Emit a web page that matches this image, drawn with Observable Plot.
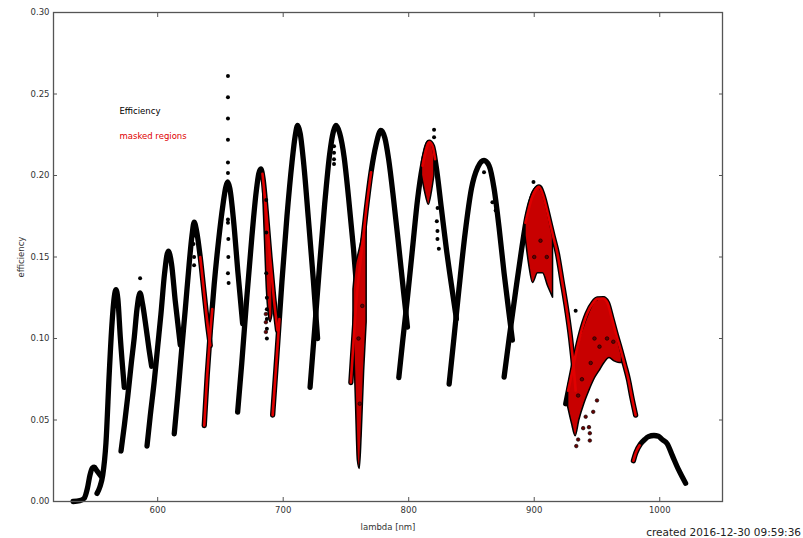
<!DOCTYPE html>
<html><head><meta charset="utf-8">
<script src="https://cdn.jsdelivr.net/npm/d3@7"></script>
<script src="https://cdn.jsdelivr.net/npm/@observablehq/plot@0.6"></script>
<style>
body{margin:0;background:#fff;font-family:"DejaVu Sans",sans-serif;}
#wrap{position:relative;width:803px;height:538px;overflow:hidden;}
#caption{position:absolute;right:2px;bottom:0px;font-size:10.5px;color:#222;font-family:"DejaVu Sans",sans-serif;}
</style></head><body>
<div id="wrap"><div id="chart"></div><div id="caption">created 2016-12-30 09:59:36</div></div>
<script>
// ---- data (lambda [nm], efficiency) ----
const xTicks = [600, 700, 800, 900, 1000];
const yTicks = [0, 0.05, 0.10, 0.15, 0.20, 0.25, 0.30];
const legendLabels = ["Efficiency", "masked regions"];

const order01 = [[532.6,0],[538,0.0005],[541.5,0.002],[544,0.008],[546,0.016],[548,0.0205],[549.5,0.021],[551.5,0.019],[554.9,0.0155]];
const order02 = [[551.7,0.005],[554,0.009],[556.2,0.016],[558.8,0.036],[561.5,0.080],[563.5,0.108],[565.5,0.126],[566.8,0.130],[568.3,0.124],[570.2,0.101],[573.4,0.070]];
const order03 = [[570.8,0.031],[573.5,0.047],[576.1,0.064],[579,0.085],[581.4,0.101],[583.5,0.118],[585.9,0.128],[588,0.121],[590.7,0.107],[593,0.094],[595.2,0.083]];
const order04 = [[591.5,0.034],[594,0.052],[597.3,0.074],[600,0.095],[602.6,0.115],[605.5,0.140],[608.4,0.1536],[611,0.146],[614,0.123],[618,0.096]];
const order05 = [[613.2,0.0415],[616,0.065],[619,0.092],[622,0.118],[625,0.145],[627.3,0.163],[629.1,0.1714],[631,0.166],[633.9,0.150],[637,0.128],[640,0.107],[641.9,0.0957]];
const order06 = [[637.1,0.0466],[639.5,0.078],[642,0.105],[645,0.133],[648.5,0.160],[652,0.182],[654.3,0.193],[655.7,0.196],[657.5,0.192],[660.5,0.172],[664,0.14],[667.7,0.109]];
const order07 = [[663.7,0.0548],[667,0.085],[671,0.125],[675,0.162],[678.5,0.190],[680.5,0.201],[682.2,0.204],[684,0.198],[686.5,0.178],[689.5,0.150],[692.5,0.125],[695.5,0.105]];
const order08 = [[691.6,0.053],[695,0.09],[699,0.135],[703,0.175],[707,0.208],[709.5,0.224],[711.5,0.2307],[713.5,0.226],[716.5,0.206],[720,0.174],[724,0.136],[727.4,0.10]];
const order09 = [[721.4,0.070],[725,0.105],[729,0.145],[733,0.182],[737,0.213],[740,0.227],[742,0.2307],[745,0.226],[748.6,0.211],[752,0.187],[756,0.155],[759.2,0.125],[761.5,0.105]];
const order10 = [[753.9,0.073],[756,0.098],[758.5,0.125],[762,0.150],[766,0.178],[770,0.202],[774,0.219],[777.8,0.2276],[781,0.223],[784,0.21],[788,0.185],[792,0.157],[796,0.128],[799,0.107]];
const order11 = [[792.1,0.076],[795,0.097],[799,0.125],[803,0.155],[807,0.185],[811,0.206],[814,0.216],[816.3,0.2205],[819,0.218],[822,0.205],[826,0.18],[830,0.155],[834,0.133],[838,0.112]];
const order12 = [[832.2,0.072],[836,0.1],[840,0.13],[845,0.165],[850,0.192],[855,0.205],[860,0.2092],[864,0.206],[868,0.192],[872,0.168],[876,0.14],[880,0.115],[882.6,0.099]];
const order13 = [[876,0.0763],[880,0.1],[885,0.128],[890,0.155],[894,0.174],[898,0.186],[901,0.191],[903.8,0.193],[907,0.188],[911,0.176],[915,0.163],[918.5,0.152],[922,0.136],[926,0.117],[929,0.10],[931.7,0.08],[933,0.068]];
const order14 = [[925.1,0.06],[929,0.075],[933,0.09],[937,0.103],[942,0.115],[947,0.122],[950.3,0.1243],[955,0.1245],[958.3,0.122],[962,0.112],[965.5,0.102],[968.9,0.093],[972,0.084],[975,0.075],[978,0.063],[980.8,0.053]];
const order15 = [[979,0.025],[981,0.03],[984.8,0.0354],[988,0.038],[991,0.0398],[995.4,0.0405],[999,0.040],[1002,0.038],[1006,0.0354],[1010,0.0283],[1015,0.0195],[1020.6,0.0112]];

// masked (telluric) parts of the orders
const mask05 = [[633.9,0.150],[637,0.128],[640,0.107],[641.9,0.0957]];
const mask06 = [[637.1,0.0466],[639.5,0.078],[642,0.105],[643.5,0.118]];
const mask07 = [[683.5,0.201],[686.5,0.178],[689.5,0.150],[692.5,0.125],[695.5,0.105]];
const mask08 = [[691.6,0.053],[695,0.09],[697,0.112]];
const mask10 = [[753.9,0.073],[756,0.098],[758.5,0.125],[762,0.150],[766,0.178],[770,0.202]];
const mask11 = [[811,0.206],[814,0.216],[816.3,0.2205],[819,0.218],[821,0.21]];
const mask13 = [[893,0.171],[898,0.186],[901,0.191],[903.8,0.193],[907,0.188],[911,0.176],[915,0.163],[918.5,0.152],[922,0.136],[926,0.117],[929,0.10],[931.7,0.08],[933,0.068]];
const mask14 = [[927,0.068],[929,0.075],[933,0.09],[937,0.103],[942,0.115],[947,0.122],[950.3,0.1243],[955,0.1245],[958.3,0.122],[962,0.112],[965.5,0.102],[968.9,0.093],[972,0.084],[975,0.075],[978,0.063],[980.8,0.053]];
const mask15 = [[979,0.025],[981,0.03],[984,0.0345]];

// scatter clouds of masked points: [lambda, low, high]
const cloudB = [[684,0.19,0.20],[685.5,0.16,0.19],[687,0.13,0.18],[688.5,0.115,0.165],[690,0.11,0.15],[691.5,0.115,0.137]];
const cloudA = [[756,0.11,0.13],[758,0.06,0.145],[759.5,0.025,0.15],[761,0.02,0.155],[762.5,0.04,0.16],[764.5,0.08,0.168],[766.5,0.11,0.175]];
const cloudK = [[810.5,0.2,0.208],[813,0.19,0.217],[816,0.182,0.221],[818.5,0.19,0.219],[820.5,0.2,0.212]];
const cloudM = [[893,0.163,0.172],[896,0.145,0.183],[899,0.134,0.19],[903,0.14,0.193],[907,0.14,0.188],[911,0.132,0.176],[915,0.125,0.162]];
const cloudN = [[927,0.058,0.07],[930,0.048,0.08],[933,0.04,0.09],[936,0.05,0.099],[940,0.06,0.108],[944,0.068,0.116],[948,0.075,0.122],[952,0.08,0.124],[956,0.085,0.125],[960,0.088,0.12],[964,0.086,0.108],[968,0.085,0.095],[970,0.085,0.089]];

// isolated points
const outliers = [[586,0.137],[628.5,0.163],[628.5,0.158],[629,0.150],[629,0.145],
  [656,0.261],[656,0.248],[656,0.235],[656,0.222],[656,0.208],[656,0.2015],[656,0.173],[656,0.171],[656.3,0.161],[656.3,0.150],[656,0.140],[656.5,0.134],
  [686.5,0.185],[686.5,0.165],[686.5,0.14],[687,0.125],[687,0.118],[687,0.112],[687,0.106],[687,0.10],
  [740.5,0.218],[740.5,0.214],[740.5,0.210],[740.5,0.207],
  [820.2,0.228],[820.2,0.2235],[822.4,0.172],[822.9,0.166],[822.9,0.161],[823,0.18],[824,0.155],
  [860,0.202],[866.7,0.1836],[869.3,0.1785],[899.4,0.196],[933,0.117]];
const maskedOutliers = [[933.5,0.034],[935,0.038],[939,0.045],[943.6,0.0456],[944.3,0.0419],[944.3,0.0374],[947,0.055],[950,0.062],[941,0.052],[686.2,0.115],[686.2,0.11],[686.2,0.104],
  [938,0.075],[945,0.085],[952,0.095],[958,0.1],[963,0.098],[935,0.065],[948,0.1],[900,0.15],[905,0.16],[910,0.15],[761,0.06],[760,0.1],[763,0.12]];

const orders = [order01,order02,order03,order04,order05,order06,order07,order08,order09,order10,order11,order12,order13,order14,order15];
const masks = [mask05,mask06,mask07,mask08,mask10,mask11,mask13,mask14,mask15];
const clouds = [cloudB,cloudA,cloudK,cloudM,cloudN];

const RED = "#e00000";
const X = d => d[0], Y = d => d[1];
const marks = [];
for (const o of orders) marks.push(Plot.line(o, {x: X, y: Y, stroke: "#000", strokeWidth: 5.3, curve: "monotone-x", strokeLinecap: "round", strokeLinejoin: "round"}));
for (const c of clouds) marks.push(Plot.areaY(c, {x: X, y1: d => d[1], y2: d => d[2], fill: "#c80000", stroke: "#000", strokeWidth: 1.5, curve: "monotone-x"}));
for (const m of masks) marks.push(Plot.line(m, {x: X, y: Y, stroke: RED, strokeWidth: 2.6, curve: "monotone-x", strokeLinecap: "round"}));
marks.push(Plot.dot(outliers, {x: X, y: Y, r: 2, fill: "#000", stroke: "none"}));
marks.push(Plot.dot(maskedOutliers, {x: X, y: Y, r: 1.8, fill: "#600", stroke: "#000", strokeWidth: 0.6}));

const chart = Plot.plot({
  width: 803, height: 538,
  marginLeft: 53, marginRight: 81, marginTop: 12, marginBottom: 37,
  style: {fontFamily: "DejaVu Sans, sans-serif", fontSize: "8.5px", color: "#333", background: "#fff"},
  x: {domain: [517, 1050]},
  y: {domain: [0, 0.30]},
  marks: [
    ...marks,
    Plot.frame({stroke: "#555", strokeWidth: 1.3}),
    Plot.axisX({ticks: xTicks, tickSize: -4, tickPadding: 9, tickFormat: d3.format("d"), label: "lambda [nm]", labelAnchor: "center", labelOffset: 28, labelArrow: "none", stroke: "#555"}),
    Plot.axisX({anchor: "top", ticks: xTicks, tickSize: -4, tickFormat: () => "", label: null, stroke: "#555"}),
    Plot.axisY({ticks: yTicks, tickSize: -4, tickPadding: 8, tickFormat: d3.format(".2f"), label: "efficiency", labelAnchor: "center", labelOffset: 36, labelArrow: "none", stroke: "#555"}),
    Plot.axisY({anchor: "right", ticks: yTicks, tickSize: -4, tickFormat: () => "", label: null, stroke: "#555"}),
    Plot.text([legendLabels[0]], {text: d => d, frameAnchor: "top-left", dx: 66, dy: 95, textAnchor: "start", fill: "#000", fontSize: 8.5}),
    Plot.text([legendLabels[1]], {text: d => d, frameAnchor: "top-left", dx: 66, dy: 120, textAnchor: "start", fill: RED, fontSize: 8.5})
  ]
});
document.getElementById("chart").appendChild(chart);
</script>
</body></html>
